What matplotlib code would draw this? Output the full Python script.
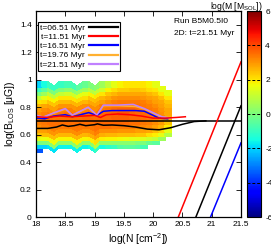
import numpy as np
import matplotlib
matplotlib.use("Agg")
import matplotlib.pyplot as plt
from matplotlib.ticker import FuncFormatter

plt.rcParams["font.family"] = ["Liberation Sans", "DejaVu Sans"]
plt.rcParams["mathtext.fontset"] = "custom"
plt.rcParams["mathtext.rm"] = "Liberation Sans"
plt.rcParams["mathtext.it"] = "Liberation Sans:italic"
plt.rcParams["axes.unicode_minus"] = False

# 2D histogram: log(M) per cell, rows listed top -> bottom
n = np.nan
n_edges = [18.0, 18.1, 18.2, 18.3, 18.4, 18.5, 18.6, 18.7, 18.8, 18.9, 19.0, 19.1,
           19.2, 19.3, 19.4, 19.5, 19.6, 19.7, 19.8, 19.9, 20.0, 20.1, 20.2, 20.3]
n_shift = [0, 0, 0, -0.025, 0, 0, 0, -0.025, 0, 0, -0.025, 0,
           0, 0, 0, 0, 0, 0, 0, 0, 0, 0, 0, 0]
b_edges = [0.47, 0.50, 0.53, 0.56, 0.59, 0.62, 0.65, 0.68, 0.71, 0.74, 0.77, 0.80,
           0.83, 0.86, 0.89, 0.92, 0.95, 0.98]
logM_top_down = [
    [-2, -1.5, -1, -1, -1, -0.8, -0.8, -0.5, -0.3, 0, 0.2, 0.5, 1, 1.5, 1.8, 2, 2, 2, 2, 1.8, 1.5, n, n],
    [-1, -0.5, 0, 0, 0, 0.2, 0.2, 0.5, 0.5, 0.8, 1, 1.2, 1.8, 2.1, 2.3, 2.3, 2.4, 2.4, 2.3, 2.1, 2, 1.5, n],
    [0, 0.5, 1, 1, 1, 1.2, 1.2, 1.5, 1.5, 1.8, 2, 2, 2.4, 2.6, 2.8, 2.8, 2.8, 2.8, 2.8, 2.6, 2.4, 2, 1.5],
    [1, 1.5, 1.8, 1.8, 2, 2, 2, 2.1, 2.1, 2.4, 2.5, 2.6, 2.8, 3.0, 3.1, 3.1, 3.1, 3.1, 3.0, 2.9, 2.8, 2.5, 2],
    [2, 2.1, 2.4, 2.4, 2.5, 2.5, 2.6, 2.6, 2.6, 2.8, 2.8, 2.9, 3.1, 3.3, 3.4, 3.4, 3.4, 3.4, 3.3, 3.1, 2.9, 2.8, 2.4],
    [2.6, 2.8, 2.9, 2.9, 3.0, 3.0, 3.0, 3.1, 3.1, 3.1, 3.1, 3.3, 3.4, 3.5, 3.5, 3.5, 3.5, 3.5, 3.4, 3.3, 3.1, 2.9, 2.6],
    [2.9, 3.1, 3.2, 3.2, 3.3, 3.3, 3.3, 3.3, 3.3, 3.4, 3.4, 3.4, 3.5, 3.6, 3.7, 3.7, 3.7, 3.6, 3.5, 3.4, 3.3, 3.0, 2.8],
    [3.1, 3.3, 3.4, 3.4, 3.4, 3.5, 3.5, 3.5, 3.5, 3.5, 3.5, 3.6, 3.6, 3.7, 3.8, 3.8, 3.7, 3.6, 3.6, 3.5, 3.3, 3.1, 2.8],
    [3.3, 3.4, 3.5, 3.5, 3.5, 3.5, 3.5, 3.5, 3.6, 3.6, 3.6, 3.6, 3.6, 3.7, 3.7, 3.7, 3.6, 3.6, 3.5, 3.4, 3.3, 3.0, 2.6],
    [3.3, 3.4, 3.5, 3.5, 3.5, 3.5, 3.5, 3.5, 3.5, 3.5, 3.5, 3.6, 3.6, 3.6, 3.6, 3.6, 3.5, 3.5, 3.4, 3.3, 3.1, 2.9, 2.4],
    [3.1, 3.3, 3.3, 3.3, 3.4, 3.4, 3.4, 3.4, 3.4, 3.4, 3.5, 3.5, 3.5, 3.4, 3.4, 3.4, 3.3, 3.3, 3.2, 3.1, 2.9, 2.6, 1.9],
    [2.9, 2.9, 3.0, 3.0, 3.1, 3.1, 3.1, 3.1, 3.1, 3.1, 3.3, 3.1, 3.1, 3.1, 3.0, 3.0, 3.0, 2.9, 2.9, 2.8, 2.5, 2.2, 1.5],
    [2.4, 2.5, 2.5, 2.5, 2.6, 2.6, 2.6, 2.6, 2.6, 2.7, 2.9, 2.7, 2.6, 2.6, 2.5, 2.5, 2.5, 2.4, 2.4, 2.1, 1.9, 1.5, 0.8],
    [1.5, 1.6, 1.7, 1.7, 1.8, 1.8, 1.8, 1.8, 1.8, 1.9, 2.1, 1.9, 1.8, 1.8, 1.7, 1.6, 1.5, 1.5, 1.4, 1.2, 1, 0.5, n],
    [0, 0, 0.2, 0.2, 0.3, 0.3, 0.3, 0.3, 0.3, 0.3, 0.8, 0.3, 0.3, 0.2, 0.2, 0.2, 0.2, 0, 0, -0.3, -0.5, n, n],
    [-2, -2, -1.8, -1.8, -1.6, -1.6, -1.6, -1.6, -1.6, -1.5, -1, -1.5, -1.2, -1, -0.6, -0.5, -0.5, -0.6, -0.8, n, n, n, n],
    [-3.5, n, n, n, n, n, n, n, n, n, n, n, n, n, n, n, n, n, n, n, n, n, n],
]

# mean log(B_LOS) vs log(N) per snapshot
t0651_N = [18.0, 18.2, 18.35, 18.45, 18.55, 18.65, 18.75, 18.85, 19.0, 19.05, 19.15, 19.3,
           19.5, 19.7, 19.9, 20.1, 20.3, 20.5, 20.7, 20.9]
t0651_B = [0.645, 0.645, 0.655, 0.67, 0.66, 0.665, 0.675, 0.665, 0.672, 0.678, 0.668, 0.67,
           0.665, 0.655, 0.64, 0.635, 0.65, 0.675, 0.695, 0.70]
t1151_N = [18.0, 18.2, 18.4, 18.6, 18.8, 19.0, 19.1, 19.2, 19.4, 19.6, 19.8, 20.0, 20.2,
           20.4, 20.55]
t1151_B = [0.73, 0.725, 0.735, 0.73, 0.735, 0.74, 0.725, 0.745, 0.75, 0.745, 0.735, 0.72,
           0.72, 0.725, 0.73]
t1651_N = [18.0, 18.15, 18.3, 18.5, 18.62, 18.9, 19.04, 19.15, 19.3, 19.5, 19.7, 19.85,
           20.0, 20.1, 20.25]
t1651_B = [0.72, 0.715, 0.735, 0.745, 0.73, 0.76, 0.74, 0.77, 0.775, 0.775, 0.775, 0.77,
           0.74, 0.72, 0.715]
t1976_N = [18.0, 18.12, 18.29, 18.5, 18.62, 18.89, 19.04, 19.15, 19.4, 19.7, 19.85, 20.0,
           20.15, 20.3]
t1976_B = [0.74, 0.725, 0.755, 0.785, 0.74, 0.795, 0.74, 0.81, 0.81, 0.805, 0.785, 0.755,
           0.725, 0.72]
t2151_N = [18.0, 18.12, 18.29, 18.5, 18.62, 18.89, 19.04, 19.15, 19.4, 19.66, 19.85, 20.0,
           20.15, 20.3]
t2151_B = [0.742, 0.727, 0.756, 0.79, 0.742, 0.80, 0.742, 0.815, 0.815, 0.82, 0.79, 0.76,
           0.73, 0.72]

# critical relations
flat_N = [18.0, 21.5]
flat_B = [0.70, 0.70]
crit_red_N = [20.43, 21.5]
crit_red_B = [0.0, 1.13]
crit_black_N = [20.73, 21.5]
crit_black_B = [0.0, 0.81]
crit_blue_N = [20.98, 21.5]
crit_blue_B = [0.0, 0.54]

c_orange = "#ffb030"
c_violet = "#c080ff"

fig = plt.figure(figsize=(2.71, 2.49), dpi=100)
ax = fig.add_axes([36 / 271, 32 / 249, 205 / 271, 206 / 249])
cax = fig.add_axes([247 / 271, 32 / 249, 14 / 271, 206 / 249])

X, Y = np.meshgrid(n_edges, b_edges)
Y = Y + np.array(n_shift)[None, :]
C = np.ma.masked_invalid(np.array(logM_top_down, dtype=float)[::-1])
mesh = ax.pcolormesh(X, Y, C, cmap="jet", vmin=-6, vmax=6, shading="flat",
                     edgecolors="face", linewidth=0.2)

lw = 1.1
ax.plot(t1976_N, t1976_B, color=c_orange, lw=lw)
ax.plot(t1651_N, t1651_B, color="blue", lw=lw)
ax.plot(t2151_N, t2151_B, color=c_violet, lw=lw)
ax.plot(t1151_N, t1151_B, color="red", lw=lw)
ax.plot(t0651_N, t0651_B, color="black", lw=lw)
ax.plot(flat_N, flat_B, color="black", lw=lw)
ax.plot(crit_red_N, crit_red_B, color="red", lw=lw)
ax.plot(crit_black_N, crit_black_B, color="black", lw=lw)
ax.plot(crit_blue_N, crit_blue_B, color="blue", lw=lw)

ax.set_xlim(18, 21.5)
ax.set_ylim(0, 1.5)
ax.set_xticks(np.arange(18, 21.51, 0.5))
ax.set_yticks(np.arange(0, 1.41, 0.2))
fmt = FuncFormatter(lambda v, p: f"{v:g}")
ax.xaxis.set_major_formatter(fmt)
ax.yaxis.set_major_formatter(fmt)
ax.tick_params(direction="in", top=True, right=True, length=3.5, width=0.6,
               labelsize=6, pad=3)
for s in ax.spines.values():
    s.set_linewidth(0.9)
ax.set_xlabel(r"log(N [cm$^{-2}$])", fontsize=7.5, labelpad=2)
ax.set_ylabel(r"log(B$_{\rm LOS}$ [μG])", fontsize=7.5, labelpad=2)

labels = ["t=06.51 Myr", "t=11.51 Myr", "t=16.51 Myr", "t=19.76 Myr", "t=21.51 Myr"]
colors = ["black", "red", "blue", c_orange, c_violet]
handles = [plt.Line2D([], [], color=c, lw=1.6) for c in colors]
leg = ax.legend(handles, labels, loc="upper left", bbox_to_anchor=(0.01, 0.945),
                markerfirst=False, fontsize=6, handlelength=3.4, handletextpad=0.5,
                labelspacing=0.15, borderpad=0.25, borderaxespad=0.0,
                fancybox=False, framealpha=1, edgecolor="black")
leg.get_frame().set_linewidth(0.8)

ax.text(0.673, 0.951, "Run B5M0.5I0", transform=ax.transAxes, fontsize=6,
        ha="left", va="center")
ax.text(0.673, 0.893, "2D: t=21.51 Myr", transform=ax.transAxes, fontsize=6,
        ha="left", va="center")

cb = fig.colorbar(mesh, cax=cax, ticks=np.arange(-6, 6.1, 2))
cb.ax.yaxis.set_major_formatter(fmt)
cb.ax.tick_params(length=0, labelsize=6, pad=3)
cb.outline.set_linewidth(0.8)
for v in [-4, -2, 0, 2, 4]:
    cax.axhline(v, color="black", lw=0.7, ls=(0, (3, 2)))
fig.text(263 / 271, 1.0, r"log(M [M$_{\rm SOL}$])", fontsize=6.2,
         ha="right", va="top")

fig.savefig("out.png", dpi=100)
